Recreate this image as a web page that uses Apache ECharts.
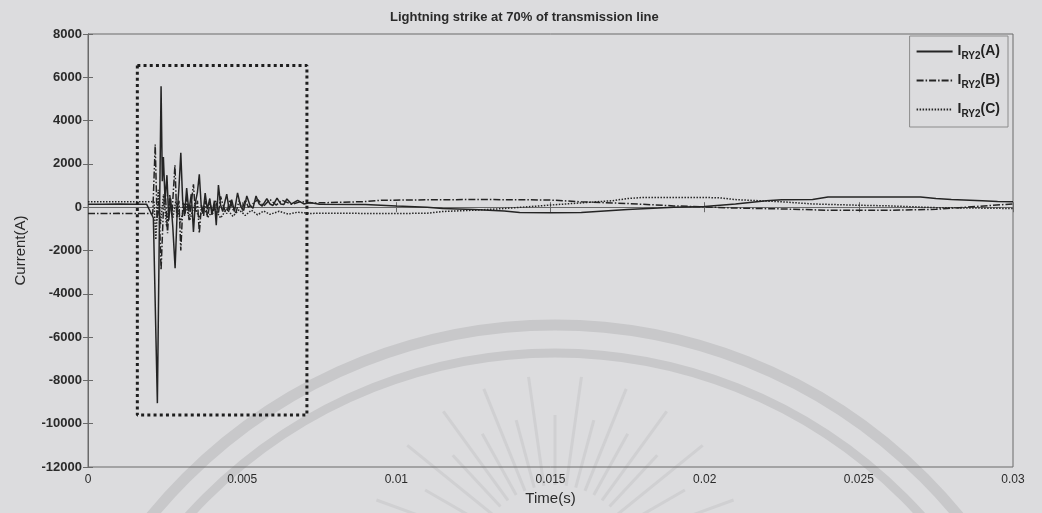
<!DOCTYPE html>
<html>
<head>
<meta charset="utf-8">
<script src="https://cdn.jsdelivr.net/npm/echarts@6/dist/echarts.min.js"></script>
<style>
  html, body { margin: 0; padding: 0; background: #dcdcde; }
  #chart { width: 1042px; height: 513px; }
</style>
</head>
<body>
<div id="chart"></div>
<script>
// Phase currents seen by relay RY2 for a lightning strike at 70% of the line: [time (s), current (A)]
const phaseA = [
  [0,140],[0.0005,140],[0.001,145],[0.0015,140],[0.0019,140],
  [0.00212,-500],[0.00225,-9050],[0.00231,-1500],[0.00237,5590],[0.00241,1200],[0.002445,2320],[0.0025,300],
  [0.00256,1480],[0.00262,-600],[0.00268,400],[0.00275,-900],[0.002825,-2820],[0.00289,-300],[0.00295,900],
  [0.00301,2510],[0.00307,300],[0.00313,-400],[0.0032,880],[0.00327,-200],[0.00335,600],[0.00342,-1140],
  [0.00348,200],[0.00355,700],[0.00361,1520],[0.00367,100],[0.00373,-300],[0.0038,650],[0.00387,-100],
  [0.00395,400],[0.00402,-350],[0.0041,300],[0.00416,-830],[0.00423,1020],[0.0043,100],[0.00437,-200],
  [0.00444,250],[0.0045,600],[0.00458,-150],[0.00466,350],[0.00475,-200],[0.00485,660],[0.00495,50],
  [0.00505,-150],[0.00515,520],[0.00525,100],[0.00535,-50],[0.00545,520],[0.00555,150],[0.00565,50],
  [0.0058,400],[0.0059,150],[0.006,80],[0.00613,420],[0.00625,150],[0.00635,120],[0.00645,380],
  [0.0066,150],[0.0068,320],[0.007,150],[0.0072,220],[0.0075,140],
  [0.009,120],[0.01,50],[0.011,0],[0.0115,-60],[0.0125,-105],[0.0135,-170],[0.014,-240],[0.015,-260],
  [0.016,-250],[0.017,-150],[0.0175,-105],[0.0185,-40],[0.019,0],[0.02,30],[0.021,150],[0.022,300],
  [0.0225,340],[0.0235,360],[0.024,470],[0.025,475],[0.026,475],[0.027,470],[0.0275,400],[0.028,355],
  [0.029,300],[0.0295,260],[0.03,250]
];
const phaseB = [
  [0,-290],[0.0005,-290],[0.001,-285],[0.0015,-290],[0.0019,-290],
  [0.0021,-300],[0.00218,2900],[0.00224,-600],[0.0023,300],[0.00237,-2900],[0.00244,-300],[0.0025,800],
  [0.00258,-1200],[0.00265,600],[0.00272,-400],[0.00282,1940],[0.00288,-500],[0.00295,300],[0.00301,-2000],
  [0.00308,200],[0.00315,-300],[0.0032,500],[0.00328,-600],[0.00335,200],[0.00342,1060],[0.00348,-200],
  [0.00355,300],[0.00361,-1200],[0.00368,100],[0.00375,-400],[0.0038,300],[0.00388,-500],[0.00395,200],
  [0.00405,-300],[0.00415,300],[0.00423,-300],[0.0043,500],[0.0044,0],[0.0045,-300],[0.0046,350],
  [0.0047,-100],[0.0048,-250],[0.0049,300],[0.005,-100],[0.0051,350],[0.0052,0],[0.0053,100],[0.0055,350],
  [0.0057,50],[0.0059,360],[0.0061,100],[0.0063,320],[0.0066,130],[0.0069,260],[0.0072,190],[0.0075,200],
  [0.009,260],[0.0095,320],[0.011,340],[0.0125,355],[0.014,345],[0.015,330],[0.016,250],[0.0175,170],
  [0.019,60],[0.02,15],[0.021,-40],[0.0225,-80],[0.024,-140],[0.025,-140],[0.026,-140],[0.0275,-100],
  [0.0285,0],[0.03,150]
];
const phaseC = [
  [0,250],[0.0005,250],[0.001,255],[0.0015,250],[0.0019,250],
  [0.00214,260],[0.0022,-1500],[0.00228,800],[0.00235,-800],[0.00245,600],[0.00255,-900],[0.00265,400],
  [0.00275,-500],[0.00285,300],[0.003,-700],[0.00315,200],[0.0033,-600],[0.00345,100],[0.0036,-500],
  [0.00375,0],[0.0039,-450],[0.0041,-50],[0.0043,-500],[0.0045,-80],[0.0047,-420],[0.0049,-120],
  [0.0051,-380],[0.0053,-140],[0.0055,-350],[0.0057,-180],[0.0059,-330],[0.0062,-190],[0.0065,-320],
  [0.0068,-230],[0.0072,-290],[0.0075,-280],
  [0.01,-290],[0.011,-280],[0.0115,-200],[0.0125,-140],[0.0135,-60],[0.0145,45],[0.015,100],[0.016,200],
  [0.017,300],[0.0175,400],[0.018,450],[0.02,450],[0.0205,430],[0.021,350],[0.0225,250],[0.0235,150],
  [0.025,90],[0.026,60],[0.0275,-20],[0.03,-60]
];
const phaseNames = ['A', 'B', 'C'];

// Time window and current range of the highlighted transient
const windowTime = [0.0016, 0.0071];
const windowCurrent = [-9600, 6550];

// Axis ranges: [min, max, step]
const timeRange = [0, 0.03, 0.005];
const currentRange = [-12000, 8000, 2000];

const ink = '#242424';
const chart = echarts.init(document.getElementById('chart'));

const windowOutline = [
  [windowTime[0], windowCurrent[1]], [windowTime[1], windowCurrent[1]],
  [windowTime[1], windowCurrent[0]], [windowTime[0], windowCurrent[0]],
  [windowTime[0], windowCurrent[1]]
];

// Faint seal printed behind the plot
const sealCx = 555, sealCy = 847;
const sealArcs = [
  { r: 522, w: 11 },
  { r: 494, w: 9 }
];
const rayAngles = [-160, -150, -141, -133, -126, -119, -112, -105, -98, -90, -82, -75, -68, -61, -54, -47, -39, -30, -20];
const rayCx = 555, rayCy = 565;

const graphics = [];
sealArcs.forEach(a => {
  graphics.push({
    type: 'arc', z: -10, silent: true,
    shape: { cx: sealCx, cy: sealCy, r: a.r, startAngle: Math.PI, endAngle: 2 * Math.PI },
    style: { stroke: '#c8c8ca', lineWidth: a.w, fill: null }
  });
});
rayAngles.forEach((deg, i) => {
  const rad = deg * Math.PI / 180;
  const r0 = 80, r1 = (i % 2 === 0) ? 190 : 150;
  graphics.push({
    type: 'line', z: -10, silent: true,
    shape: {
      x1: rayCx + r0 * Math.cos(rad), y1: rayCy + r0 * Math.sin(rad),
      x2: rayCx + r1 * Math.cos(rad), y2: rayCy + r1 * Math.sin(rad)
    },
    style: { stroke: '#d0d0d2', lineWidth: 3 }
  });
});

const dashTypes = ['solid', [7, 2, 1.5, 2], [1.5, 1.5]];
const phaseData = [phaseA, phaseB, phaseC];

const series = phaseData.map((d, i) => ({
  name: phaseNames[i],
  type: 'line',
  data: d,
  symbol: 'none',
  smooth: false,
  animation: false,
  lineStyle: { color: ink, width: 1.5, type: dashTypes[i] },
  itemStyle: { color: ink },
  z: 3 - i
}));

series.push({
  name: 'window',
  type: 'line',
  data: windowOutline,
  symbol: 'none',
  animation: false,
  lineStyle: { color: '#1e1e1e', width: 3, type: [3, 3.2], cap: 'butt' },
  z: 5
});

const labelFont = 'Liberation Sans, Arial, sans-serif';

chart.setOption({
  backgroundColor: '#dcdcde',
  animation: false,
  textStyle: { fontFamily: labelFont },
  title: {
    text: 'Lightning strike at 70% of transmission line',
    left: 385, top: 6,
    textStyle: { fontSize: 13, fontWeight: 'bold', color: '#2a2a2a', fontFamily: labelFont }
  },
  graphic: graphics,
  legend: {
    data: phaseNames,
    orient: 'vertical',
    right: 34, top: 36,
    itemWidth: 36, itemHeight: 12, itemGap: 10,
    padding: [6, 8, 8, 6],
    borderColor: '#8c8c8c', borderWidth: 1,
    backgroundColor: 'transparent',
    itemStyle: { opacity: 0 },
    formatter: name => '{i|I}{s|RY2}{i|(' + name + ')}',
    textStyle: {
      color: '#222',
      rich: {
        i: { fontSize: 14, fontWeight: 'bold', fontFamily: labelFont, color: '#222', lineHeight: 20 },
        s: { fontSize: 10, fontWeight: 'bold', fontFamily: labelFont, color: '#222', padding: [9, 0, 0, 0], lineHeight: 20 }
      }
    }
  },
  grid: { left: 88, right: 29, top: 34, bottom: 46, show: true, borderColor: '#6a6a6a', borderWidth: 1 },
  xAxis: [{
    type: 'value',
    min: timeRange[0], max: timeRange[1], interval: timeRange[2],
    name: 'Time(s)', nameLocation: 'middle', nameGap: 21,
    nameTextStyle: { fontSize: 15, color: '#2a2a2a', fontFamily: labelFont },
    axisLine: { show: true, lineStyle: { color: '#6a6a6a' } },
    axisTick: { inside: true, length: 5, lineStyle: { color: '#6a6a6a' } },
    axisLabel: { fontSize: 12, color: '#2a2a2a', margin: 7, formatter: v => String(+v.toFixed(3)) },
    splitLine: { show: false }
  }, {
    type: 'value', position: 'top',
    min: timeRange[0], max: timeRange[1], interval: timeRange[2],
    axisLine: { show: true, lineStyle: { color: '#6a6a6a' } },
    axisTick: { inside: true, length: 5, lineStyle: { color: '#6a6a6a' } },
    axisLabel: { show: false },
    splitLine: { show: false }
  }],
  yAxis: [{
    type: 'value',
    min: currentRange[0], max: currentRange[1], interval: currentRange[2],
    name: 'Current(A)', nameLocation: 'middle', nameGap: 60,
    nameTextStyle: { fontSize: 15, color: '#2a2a2a', fontFamily: labelFont },
    axisLine: { show: true, lineStyle: { color: '#6a6a6a' } },
    axisTick: { inside: true, length: 5, lineStyle: { color: '#6a6a6a' } },
    axisLabel: { fontSize: 13, fontWeight: 'bold', color: '#2a2a2a', margin: 6, formatter: v => String(v) },
    splitLine: { show: false }
  }, {
    type: 'value', position: 'right',
    min: currentRange[0], max: currentRange[1], interval: currentRange[2],
    axisLine: { show: true, lineStyle: { color: '#6a6a6a' } },
    axisTick: { inside: true, length: 5, lineStyle: { color: '#6a6a6a' } },
    axisLabel: { show: false },
    splitLine: { show: false }
  }],
  series: series
});
</script>
</body>
</html>
